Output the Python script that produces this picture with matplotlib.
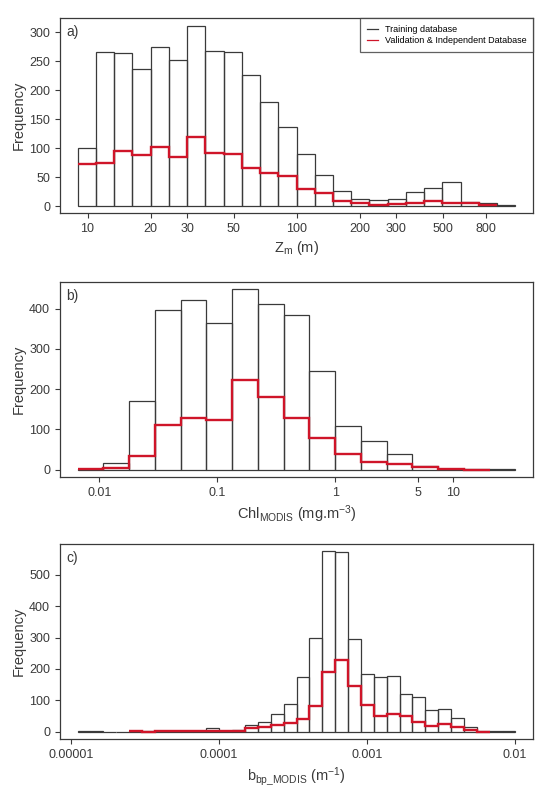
import numpy as np
import matplotlib
matplotlib.use("Agg")
import matplotlib.pyplot as plt
from matplotlib.ticker import FixedLocator, FixedFormatter, NullLocator

plt.rcParams['font.family'] = ['Liberation Sans', 'DejaVu Sans']
plt.rcParams['mathtext.fontset'] = 'custom'
plt.rcParams['mathtext.rm'] = 'Liberation Sans'
plt.rcParams['mathtext.it'] = 'Liberation Sans'

# ---- data (log10 of first/last bin edge, counts per bin) ----
# a) Zm (m)
zm_edges = (0.952, 3.046)
zm_train = [100, 267, 265, 237, 275, 252, 312, 268, 266, 226, 180, 136,
            90, 54, 26, 12, 10, 12, 25, 32, 42, 7, 6, 2]
zm_valid = [73, 75, 96, 89, 102, 84, 119, 91, 90, 66, 57, 52,
            30, 23, 8, 5, 2, 4, 6, 9, 6, 5, 2]
zm_valid_start = 0
zm_ticks = [10, 20, 30, 50, 100, 200, 300, 500, 800]
zm_ticklabels = ['10', '20', '30', '50', '100', '200', '300', '500', '800']
zm_yticks = [0, 50, 100, 150, 200, 250, 300]

# b) Chl MODIS
chl_edges = (-2.184, 1.528)
chl_train = [1, 18, 170, 397, 422, 365, 448, 412, 384, 246, 108, 71,
             38, 10, 2, 1, 1]
chl_valid = [2, 5, 35, 110, 128, 124, 222, 180, 128, 79, 40, 20,
             15, 6, 1, 0]
chl_valid_start = 0
chl_ticks = [0.01, 0.1, 1, 5, 10]
chl_ticklabels = ['0.01', '0.1', '1', '5', '10']
chl_yticks = [0, 100, 200, 300, 400]

# c) bbp MODIS
bbp_edges = (-4.957, -1.998)
bbp_train = [1, 2, 0, 0, 2, 1, 1, 2, 4, 3, 12, 3, 6, 21, 31, 57, 88,
             176, 298, 575, 571, 296, 183, 176, 177, 120, 110, 68, 73,
             44, 14, 3, 4, 1]
bbp_valid = [4, 0, 1, 2, 3, 2, 4, 3, 4, 11, 14, 22, 27, 42, 83, 191,
             228, 147, 85, 49, 56, 51, 32, 17, 24, 15, 5, 0]
bbp_valid_start = 4
bbp_ticks = [0.00001, 0.0001, 0.001, 0.01]
bbp_ticklabels = ['0.00001', '0.0001', '0.001', '0.01']
bbp_yticks = [0, 100, 200, 300, 400, 500]

panels = [
    (zm_edges, zm_train, zm_valid, zm_valid_start, zm_ticks, zm_ticklabels,
     zm_yticks, r'Z$_{\mathregular{m}}$ (m)', 'a)'),
    (chl_edges, chl_train, chl_valid, chl_valid_start, chl_ticks,
     chl_ticklabels, chl_yticks,
     r'Chl$_{\mathregular{MODIS}}$ (mg.m$^{\mathregular{-3}}$)', 'b)'),
    (bbp_edges, bbp_train, bbp_valid, bbp_valid_start, bbp_ticks,
     bbp_ticklabels, bbp_yticks,
     r'b$_{\mathregular{bp\_MODIS}}$ (m$^{\mathregular{-1}}$)', 'c)'),
]

black = '#3a3a3a'
red = '#cf1529'

fig = plt.figure(figsize=(5.4, 7.99), dpi=100)
tops = [18.3, 282.0, 544.0]
H = 799.0
for k, (lims, train, valid, vs, ticks, tlabels, yticks, xlab, tag) in enumerate(panels):
    ax = fig.add_axes([60/540., 1 - (tops[k] + 195.)/H, 473/540., 195./H])
    nb = len(train)
    edges = np.logspace(lims[0], lims[1], nb + 1)
    ax.bar(edges[:-1], train, width=np.diff(edges), align='edge', fill=False,
           edgecolor=black, linewidth=0.9)
    ax.stairs(valid, edges[vs:vs + len(valid) + 1], baseline=None,
              color=red, linewidth=1.7, zorder=3)
    ax.set_xscale('log')
    span = lims[1] - lims[0]
    ax.set_xlim(10 ** (lims[0] - 0.04 * span), 10 ** (lims[1] + 0.04 * span))
    ymax = max(train)
    ax.set_ylim(-0.04 * ymax, 1.04 * ymax)
    ax.xaxis.set_major_locator(FixedLocator(ticks))
    ax.xaxis.set_major_formatter(FixedFormatter(tlabels))
    ax.xaxis.set_minor_locator(NullLocator())
    ax.set_yticks(yticks)
    ax.tick_params(direction='out', length=3.6, width=0.8, colors=black,
                   labelsize=9, pad=3.5)
    for s in ax.spines.values():
        s.set_color(black)
        s.set_linewidth(0.9)
    ax.set_xlabel(xlab, fontsize=10.5, color=black, labelpad=3)
    ax.set_ylabel('Frequency', fontsize=10.5, color=black, va='center')
    ax.yaxis.set_label_coords(-0.088, 0.5)
    ax.text(0.014, 0.93, tag, transform=ax.transAxes, fontsize=10,
            color=black, ha='left', va='center')
    if k == 0:
        ax.plot([], [], color=black, lw=0.9, label='Training database')
        ax.plot([], [], color=red, lw=0.9,
                label='Validation & Independent Database')
        leg = ax.legend(loc='upper right', bbox_to_anchor=(1, 1),
                        borderaxespad=0, fontsize=6.5, fancybox=False,
                        handlelength=1.3, handletextpad=0.7,
                        labelspacing=0.25, borderpad=0.75)
        leg.get_frame().set_edgecolor(black)
        leg.get_frame().set_linewidth(0.9)

fig.savefig('out.png', dpi=100)
